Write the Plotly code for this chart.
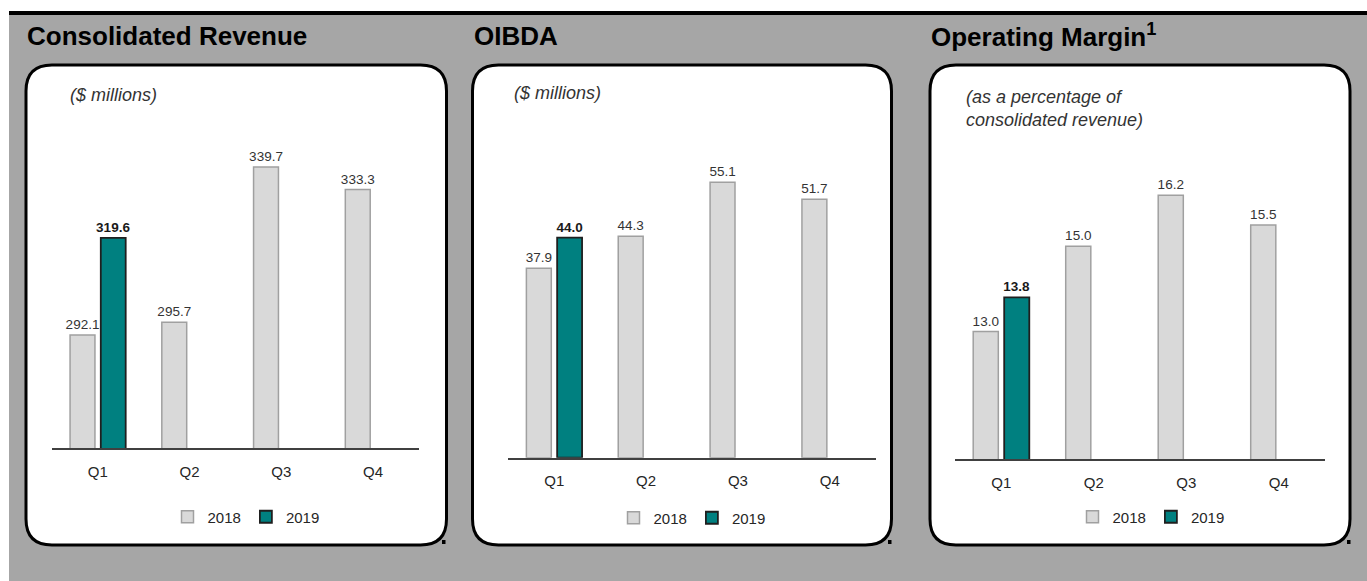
import plotly.graph_objects as go

W, H = 1367, 581

# ---------------- data ----------------
quarters = ["Q1", "Q2", "Q3", "Q4"]
series_names = ["2018", "2019"]
revenue_2018 = [292.1, 295.7, 339.7, 333.3]
revenue_2019 = [319.6, None, None, None]
oibda_2018 = [37.9, 44.3, 55.1, 51.7]
oibda_2019 = [44.0, None, None, None]
margin_2018 = [13.0, 15.0, 16.2, 15.5]
margin_2019 = [13.8, None, None, None]
titles = ["Consolidated Revenue", "OIBDA", "Operating Margin<sup>1</sup>"]
subtitles = ["($ millions)", "($ millions)", "(as a percentage of<br>consolidated revenue)"]

# ---------------- layout helpers (pixels -> paper) ----------------
def fx(x):
    return x / W

def fy(y):
    return 1 - y / H

FONT = "Liberation Sans, Arial, sans-serif"
C2018_FILL = "#d9d9d9"
C2018_LINE = "#a0a0a0"
C2019_FILL = "#008080"
C2019_LINE = "#1f1f1f"

panels = [
    dict(data=(revenue_2018, revenue_2019), box=(26, 65, 446.5, 545),
         px=(52, 419), base=448.3, ymin=260, ppu=3.529,
         title_x=25, sub_x=68, sub_y=95, leg_x=246, leg_y=517, dot=(442, 540)),
    dict(data=(oibda_2018, oibda_2019), box=(472.5, 65, 891.5, 545),
         px=(508.3, 875.7), base=457.7, ymin=0, ppu=5.0,
         title_x=471.5, sub_x=511.7, sub_y=93, leg_x=692, leg_y=518, dot=(888, 540)),
    dict(data=(margin_2018, margin_2019), box=(930, 65, 1350, 545),
         px=(955, 1325), base=459.3, ymin=10, ppu=42.6,
         title_x=929, sub_x=964, sub_y=108, leg_x=1151, leg_y=517, dot=(1347, 540)),
]
PLOT_TOP = 120

fig = go.Figure()
shapes = []
annotations = []

# background: white page, black rule, gray panel area
shapes.append(dict(type="rect", xref="paper", yref="paper", x0=fx(9), x1=1, y0=0, y1=fy(15),
                   fillcolor="#a6a6a6", line=dict(width=0), layer="below"))
shapes.append(dict(type="rect", xref="paper", yref="paper", x0=fx(9), x1=1, y0=fy(15), y1=fy(11),
                   fillcolor="#000000", line=dict(width=0), layer="below"))


def rounded_path(x0, y0, x1, y1, r):
    X0, X1 = fx(x0), fx(x1)
    Y0, Y1 = fy(y0), fy(y1)
    rx, ry = r / W, r / H
    return (f"M {X0+rx},{Y0} L {X1-rx},{Y0} Q {X1},{Y0} {X1},{Y0-ry} "
            f"L {X1},{Y1+ry} Q {X1},{Y1} {X1-rx},{Y1} "
            f"L {X0+rx},{Y1} Q {X0},{Y1} {X0},{Y1+ry} "
            f"L {X0},{Y0-ry} Q {X0},{Y0} {X0+rx},{Y0} Z")


def present(values):
    xs = [q for q, v in zip(quarters, values) if v is not None]
    ys = [v for v in values if v is not None]
    return xs, ys


for i, p in enumerate(panels):
    n = "" if i == 0 else str(i + 1)
    xa, ya = "x" + n, "y" + n
    leg = "legend" + n
    d2018, d2019 = p["data"]

    x18, y18 = present(d2018)
    x19, y19 = present(d2019)
    fig.add_trace(go.Bar(
        x=x18, y=y18, name=series_names[0], xaxis=xa, yaxis=ya, legend=leg,
        marker=dict(color=C2018_FILL, line=dict(color=C2018_LINE, width=1.5)),
        text=[f"{v:.1f}" for v in y18], textposition="outside", constraintext="none",
        textfont=dict(family=FONT, size=13.5, color="#333333"),
        hoverinfo="skip"))
    fig.add_trace(go.Bar(
        x=x19, y=y19, name=series_names[1], xaxis=xa, yaxis=ya, legend=leg,
        marker=dict(color=C2019_FILL, line=dict(color=C2019_LINE, width=1.8)),
        text=[f"<b>{v:.1f}</b>" for v in y19], textposition="outside", constraintext="none",
        textfont=dict(family=FONT, size=13.5, color="#1a1a1a"),
        hoverinfo="skip"))

    ymax = p["ymin"] + (p["base"] - PLOT_TOP) / p["ppu"]
    fig.update_layout(**{
        "xaxis" + n: dict(domain=[fx(p["px"][0]), fx(p["px"][1])], anchor=ya,
                          categoryorder="array", categoryarray=quarters,
                          range=[-0.5, len(quarters) - 0.5],
                          showline=True, linecolor="#404040", linewidth=1.5,
                          showgrid=False, zeroline=False, ticks="outside", ticklen=9,
                          tickcolor="rgba(0,0,0,0)",
                          tickfont=dict(family=FONT, size=15, color="#262626"),
                          fixedrange=True),
        "yaxis" + n: dict(domain=[fy(p["base"]), fy(PLOT_TOP)], anchor=xa,
                          range=[p["ymin"], ymax], visible=False, showgrid=False,
                          fixedrange=True),
        leg: dict(orientation="h", x=fx(p["leg_x"]), xanchor="center",
                  y=fy(p["leg_y"]), yanchor="middle", bgcolor="rgba(0,0,0,0)",
                  font=dict(family=FONT, size=15, color="#262626"),
                  itemwidth=30, traceorder="normal", tracegroupgap=0),
    })

    bx0, by0, bx1, by1 = p["box"]
    shapes.append(dict(type="path", xref="paper", yref="paper",
                       path=rounded_path(bx0, by0, bx1, by1, 26),
                       fillcolor="#ffffff", line=dict(color="#000000", width=3),
                       layer="below"))
    dx, dy = p["dot"]
    shapes.append(dict(type="rect", xref="paper", yref="paper",
                       x0=fx(dx), x1=fx(dx + 3.5), y0=fy(dy + 4), y1=fy(dy),
                       fillcolor="#000000", line=dict(width=0), layer="above"))

    annotations.append(dict(xref="paper", yref="paper", x=fx(p["title_x"]), y=fy(36),
                            xanchor="left", yanchor="middle", showarrow=False,
                            text="<b>" + titles[i] + "</b>",
                            font=dict(family=FONT, size=26, color="#000000")))
    annotations.append(dict(xref="paper", yref="paper", x=fx(p["sub_x"]), y=fy(p["sub_y"]),
                            xanchor="left", yanchor="middle", showarrow=False, align="left",
                            text="<i>" + subtitles[i] + "</i>",
                            font=dict(family=FONT, size=18, color="#333333")))

fig.update_layout(
    width=W, height=H, margin=dict(l=0, r=0, t=0, b=0),
    paper_bgcolor="#ffffff", plot_bgcolor="rgba(0,0,0,0)",
    barmode="group", bargap=0.33, bargroupgap=0.19,
    shapes=shapes, annotations=annotations,
    font=dict(family=FONT),
)

fig.write_html("out.html", config={"displayModeBar": False},
               post_script="document.body.style.margin='0';document.body.style.overflow='hidden';")
